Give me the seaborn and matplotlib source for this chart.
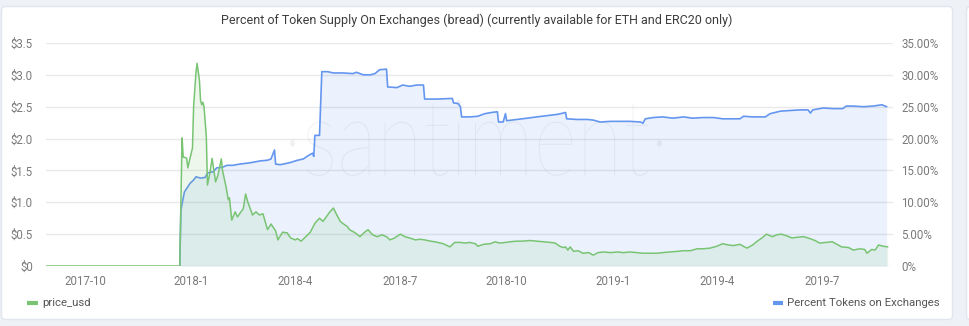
import pandas as pd
import matplotlib
matplotlib.use("Agg")
import matplotlib.pyplot as plt
import seaborn as sns
from matplotlib.patches import FancyBboxPatch, PathPatch
from matplotlib.lines import Line2D
from matplotlib.textpath import TextPath
from matplotlib.font_manager import FontProperties
from matplotlib.transforms import Affine2D, IdentityTransform

# ---- data -------------------------------------------------------------
ORIGIN = pd.Timestamp("2017-10-01")   # day offsets below count from here

price_day = [-34, 82, 84, 85, 87, 88, 89, 91, 93, 94,
             96, 97, 99, 100, 101, 102, 103, 105, 106, 108,
             110, 113, 115, 118, 119, 122, 124, 125, 127, 130,
             132, 135, 137, 139, 141, 145, 148, 151, 154, 158,
             161, 165, 167, 171, 175, 178, 182, 184, 187, 190,
             195, 199, 203, 206, 210, 212, 215, 218, 221, 223,
             227, 229, 234, 238, 242, 245, 249, 253, 257, 261,
             264, 268, 273, 277, 281, 286, 290, 294, 299, 303,
             310, 316, 320, 325, 329, 333, 338, 340, 345, 351,
             355, 359, 364, 368, 374, 379, 385, 391, 397, 403,
             407, 411, 414, 416, 418, 420, 423, 427, 431, 436,
             440, 444, 449, 455, 461, 466, 472, 478, 483, 489,
             495, 500, 507, 513, 518, 524, 530, 535, 541, 547,
             552, 557, 561, 567, 573, 578, 582, 586, 590, 595,
             599, 603, 608, 612, 616, 622, 626, 632, 636, 642,
             647, 651, 655, 661, 665, 671, 675, 677, 681, 684,
             687, 691, 695]
price_usd = [0.00, 0.00, 2.01, 1.71, 1.70, 1.69, 1.54, 1.70, 1.85, 2.50,
             3.03, 3.18, 2.92, 2.60, 2.53, 2.57, 2.50, 2.03, 1.27, 1.45,
             1.69, 1.32, 1.42, 1.68, 1.50, 1.25, 1.04, 1.07, 0.72, 0.85,
             0.77, 0.85, 0.90, 1.13, 1.00, 0.80, 0.85, 0.80, 0.82, 0.57,
             0.66, 0.55, 0.41, 0.53, 0.52, 0.44, 0.41, 0.43, 0.39, 0.44,
             0.53, 0.67, 0.75, 0.70, 0.80, 0.85, 0.91, 0.80, 0.70, 0.67,
             0.62, 0.57, 0.52, 0.46, 0.53, 0.57, 0.49, 0.46, 0.49, 0.46,
             0.41, 0.44, 0.50, 0.46, 0.44, 0.41, 0.42, 0.41, 0.39, 0.38,
             0.35, 0.30, 0.37, 0.37, 0.36, 0.37, 0.35, 0.31, 0.34, 0.35,
             0.38, 0.36, 0.37, 0.38, 0.39, 0.39, 0.40, 0.39, 0.38, 0.37,
             0.36, 0.31, 0.29, 0.30, 0.25, 0.30, 0.23, 0.24, 0.20, 0.21,
             0.17, 0.21, 0.22, 0.21, 0.22, 0.21, 0.22, 0.21, 0.20, 0.20,
             0.20, 0.21, 0.22, 0.23, 0.24, 0.24, 0.27, 0.27, 0.28, 0.31,
             0.35, 0.33, 0.32, 0.34, 0.28, 0.33, 0.39, 0.44, 0.50, 0.46,
             0.49, 0.50, 0.47, 0.44, 0.45, 0.46, 0.44, 0.40, 0.36, 0.37,
             0.38, 0.34, 0.30, 0.29, 0.25, 0.27, 0.26, 0.20, 0.26, 0.25,
             0.33, 0.31, 0.30]

pct_day = [82, 83, 86, 91, 94, 96, 100, 104, 106, 111,
           114, 119, 123, 128, 134, 143, 152, 158, 161, 164,
           165, 169, 177, 184, 189, 193, 197, 198, 199, 203,
           205, 210, 215, 223, 232, 235, 241, 247, 251, 255,
           261, 262, 270, 275, 281, 287, 293, 294, 305, 318,
           319, 323, 325, 326, 333, 340, 346, 352, 357, 358,
           362, 364, 365, 374, 383, 391, 400, 409, 414, 416,
           417, 426, 435, 440, 446, 455, 463, 472, 481, 483,
           485, 492, 500, 509, 518, 526, 535, 544, 552, 558,
           567, 570, 578, 589, 593, 602, 610, 619, 626, 628,
           630, 639, 648, 656, 659, 665, 674, 682, 690, 694]
pct_tokens = [0.0, 8.8, 11.6, 13.0, 13.5, 14.0, 13.8, 13.9, 14.6, 14.8,
              15.4, 15.5, 15.8, 15.8, 16.0, 16.2, 16.5, 16.6, 16.8, 18.2,
              16.0, 15.9, 16.2, 16.6, 16.8, 17.3, 17.7, 17.2, 20.5, 20.5,
              30.5, 30.5, 30.3, 30.3, 30.2, 30.4, 30.0, 30.0, 30.2, 30.8,
              30.9, 28.1, 28.0, 28.4, 28.2, 28.4, 28.4, 26.2, 26.2, 26.3,
              25.6, 25.5, 25.0, 23.4, 23.4, 23.5, 23.9, 24.1, 24.2, 22.6,
              22.6, 23.9, 22.8, 23.0, 23.2, 23.4, 23.6, 23.8, 24.0, 24.1,
              23.1, 23.0, 23.0, 22.9, 22.6, 22.7, 22.7, 22.7, 22.6, 22.4,
              23.1, 23.3, 23.4, 23.2, 23.4, 23.2, 23.3, 23.3, 23.1, 23.1,
              23.1, 23.5, 23.4, 23.4, 23.9, 24.3, 24.4, 24.5, 24.5, 24.0,
              24.5, 24.8, 24.7, 24.7, 25.1, 25.1, 25.0, 25.1, 25.3, 25.0]

price_ticks = [0, 0.5, 1.0, 1.5, 2.0, 2.5, 3.0, 3.5]
price_tick_labels = ["$0", "$0.5", "$1.0", "$1.5", "$2.0", "$2.5", "$3.0", "$3.5"]
pct_ticks = [0, 5, 10, 15, 20, 25, 30, 35]
pct_tick_labels = ["0%", "5.00%", "10.00%", "15.00%", "20.00%", "25.00%",
                   "30.00%", "35.00%"]
date_ticks = ["2017-10-01", "2018-01-01", "2018-04-01", "2018-07-01",
              "2018-10-01", "2019-01-01", "2019-04-01", "2019-07-01"]
date_tick_labels = ["2017-10", "2018-1", "2018-4", "2018-7",
                    "2018-10", "2019-1", "2019-4", "2019-7"]

TITLE = ("Percent of Token Supply On Exchanges (bread) "
         "(currently available for ETH and ERC20 only)")
PRICE_LABEL = "price_usd"
PCT_LABEL = "Percent Tokens on Exchanges"

GREEN = "#78c473"
BLUE = "#6496ef"
TICK_COLOR = "#7a7a7a"
GRID_COLOR = "#e9e9e9"

price_dates = ORIGIN + pd.to_timedelta(price_day, unit="D")
pct_dates = ORIGIN + pd.to_timedelta(pct_day, unit="D")

# ---- style ------------------------------------------------------------
sns.set_style("white")
plt.rcParams["font.family"] = ["Roboto", "DejaVu Sans"]

W, H = 970, 326
fig = plt.figure(figsize=(W / 100, H / 100), dpi=100, facecolor="#eef1f5")

# white card behind the chart, plus the edge of the neighbouring card
card = FancyBboxPatch((1.5, 6.5), 951, 313, boxstyle="round,pad=0,rounding_size=4",
                      transform=IdentityTransform(), facecolor="white",
                      edgecolor="#e1e6ee", linewidth=1, zorder=-10)
fig.add_artist(card)
side = FancyBboxPatch((966.5, 6.5), 30, 313, boxstyle="round,pad=0,rounding_size=4",
                      transform=IdentityTransform(), facecolor="white",
                      edgecolor="#e1e6ee", linewidth=1, zorder=-10)
fig.add_artist(side)

ax = fig.add_axes([46 / W, 60 / H, 847 / W, 223 / H])
ax2 = ax.twinx()

# percent of supply on the right axis (drawn underneath)
sns.lineplot(x=pct_dates, y=pct_tokens, ax=ax2, color=BLUE, linewidth=1.2,
             estimator=None, legend=False)
ax2.fill_between(pct_dates, pct_tokens, 0, color=BLUE, alpha=0.12,
                 linewidth=0, zorder=1)

# price on the left axis (drawn on top)
sns.lineplot(x=price_dates, y=price_usd, ax=ax, color=GREEN, linewidth=1.1,
             estimator=None, legend=False)
ax.fill_between(price_dates, price_usd, 0, color=GREEN, alpha=0.13,
                linewidth=0, zorder=1)

ax.set_zorder(ax2.get_zorder() + 1)
ax.patch.set_visible(False)

# faint watermark across the plot area
wm_font = FontProperties(family=["Lato", "DejaVu Sans"], weight="light")
wm_path = TextPath((0, 0), "\u00b7santiment\u00b7", size=100, prop=wm_font)
ext = wm_path.get_extents()
x0, x1, yb, yt = 290, 662, 326 - 176, 326 - 100
wm_tr = (Affine2D().translate(-ext.x0, -ext.y0)
         .scale((x1 - x0) / ext.width, (yt - yb) / ext.height)
         .translate(x0, yb))
wm = PathPatch(wm_path, transform=wm_tr, facecolor="#5a6274", alpha=0.09,
               linewidth=0, zorder=0.8)
ax2.add_artist(wm)

# axes, ticks and grid
xmin = ORIGIN - pd.Timedelta(days=33.8)
xmax = ORIGIN + pd.Timedelta(days=699.5)
ax.set_xlim(xmin, xmax)
ax.set_ylim(0, 3.5)
ax2.set_ylim(0, 35)
ax.set_xticks(pd.to_datetime(date_ticks), date_tick_labels)
ax.set_yticks(price_ticks, price_tick_labels)
ax2.set_yticks(pct_ticks, pct_tick_labels)

ax.grid(False)
ax2.grid(True, color=GRID_COLOR, linewidth=1)
ax2.xaxis.grid(True, color=GRID_COLOR, linewidth=1)
ax2.set_axisbelow(True)

for a in (ax, ax2):
    a.set_xlabel("")
    a.set_ylabel("")
    for s in a.spines.values():
        s.set_visible(False)

ax.tick_params(axis="y", length=0, pad=9.4, labelsize=8.3, labelcolor=TICK_COLOR)
ax.tick_params(axis="x", length=0, pad=6.5, labelsize=8.3, labelcolor=TICK_COLOR)
ax2.tick_params(axis="y", length=0, pad=5.8, labelsize=8.3, labelcolor=TICK_COLOR)

# title
fig.text(477 / W, (H - 20) / H, TITLE, ha="center", va="center",
         fontsize=9, color="#3d3d3d")

# legend entries at the bottom corners
ly = (H - 303) / H
fig.add_artist(Line2D([27 / W, 38 / W], [ly, ly], color=GREEN, linewidth=3,
                      solid_capstyle="butt"))
fig.text(42 / W, ly, PRICE_LABEL, ha="left", va="center", fontsize=8.2,
         color="#555555")
fig.add_artist(Line2D([773 / W, 783 / W], [ly, ly], color=BLUE, linewidth=3,
                      solid_capstyle="butt"))
fig.text(787 / W, ly, PCT_LABEL, ha="left", va="center", fontsize=8.2,
         color="#555555")

fig.savefig("out.png", dpi=100, facecolor=fig.get_facecolor())
